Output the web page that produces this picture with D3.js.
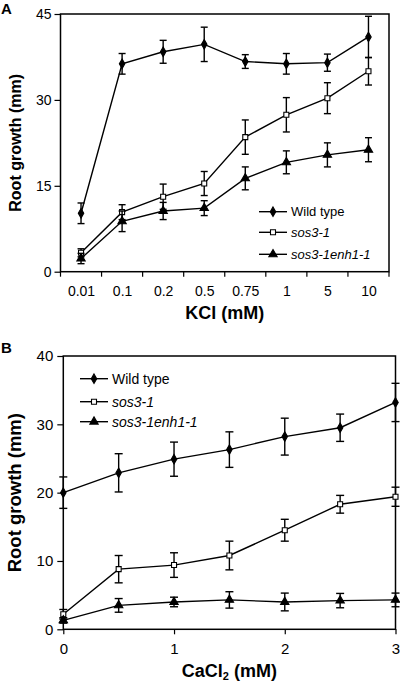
<!DOCTYPE html>
<html><head><meta charset="utf-8">
<script src="https://cdn.jsdelivr.net/npm/d3@7"></script>
<style>
body{margin:0;background:#fff;}
svg{display:block;font-family:"Liberation Sans",Arial,sans-serif;}
</style></head>
<body><svg id="c" width="400" height="685"></svg>
<script>
// Panel A: KCl
const kclCats = ["0.01","0.1","0.2","0.5","0.75","1","5","10"];
const kclWild = [10.2,36.3,38.4,39.7,36.7,36.3,36.5,41.0];
const kclWildErr = [1.8,1.8,2.0,3.0,1.2,1.8,1.5,3.6];
const kclSos = [3.3,10.4,13.1,15.4,23.5,27.4,30.3,35.0];
const kclSosErr = [0.7,1.3,2.2,2.1,3.0,3.0,2.7,2.4];
const kclEnh = [2.3,8.8,10.6,11.1,16.3,19.1,20.4,21.3];
const kclEnhErr = [0.9,1.8,1.5,1.3,2.0,2.0,2.1,2.1];
const kclYTicks = [0,15,30,45];
// Panel B: CaCl2
const caConc = [0,0.5,1,1.5,2,2.5,3];
const caWild = [20.0,22.9,24.9,26.3,28.2,29.5,33.2];
const caWildErr = [2.3,2.8,2.5,2.6,2.7,2.0,2.8];
const caSos = [2.2,8.8,9.4,10.8,14.5,18.3,19.4];
const caSosErr = [0.7,2.0,1.8,2.1,1.6,1.3,1.4];
const caEnh = [1.3,3.5,4.0,4.3,4.0,4.2,4.3];
const caEnhErr = [0.4,1.0,0.7,1.2,1.3,1.05,1.0];
const caYTicks = [0,10,20,30,40];
const caXTicks = [0,1,2,3];
const seriesNames = ["Wild type","sos3-1","sos3-1enh1-1"];

const svg = d3.select("#c");
const sym = {
  diamond: d3.symbol().type(d3.symbolDiamond).size(26)(),
  square: d3.symbol().type(d3.symbolSquare).size(25)(),
  triangle: d3.symbol().type(d3.symbolTriangle).size(30)()
};
const styles = [
  {path: sym.diamond, fill:"#000"},
  {path: sym.square, fill:"#fff"},
  {path: sym.triangle, fill:"#000"}
];

function drawSeries(g, xs, ys, errs, x, y, st, cap){
  const pts = xs.map((xv,i)=>({x:x(xv), y:y(ys[i]), lo:y(ys[i]-errs[i]), hi:y(ys[i]+errs[i])}));
  g.append("path").datum(pts)
    .attr("d", d3.line().x(d=>d.x).y(d=>d.y))
    .attr("fill","none").attr("stroke","#000").attr("stroke-width",1.4);
  const eb = g.append("g").attr("stroke","#000").attr("stroke-width",1.4);
  pts.forEach(p=>{
    eb.append("line").attr("x1",p.x).attr("x2",p.x).attr("y1",p.lo).attr("y2",p.hi);
    eb.append("line").attr("x1",p.x-cap).attr("x2",p.x+cap).attr("y1",p.lo).attr("y2",p.lo);
    eb.append("line").attr("x1",p.x-cap).attr("x2",p.x+cap).attr("y1",p.hi).attr("y2",p.hi);
  });
  g.selectAll(null).data(pts).enter().append("path")
    .attr("d", st.path).attr("transform",d=>`translate(${d.x},${d.y})`)
    .attr("fill",st.fill).attr("stroke","#000").attr("stroke-width",1.1);
}

function legend(g, x0, rows, fs){
  rows.forEach((r,i)=>{
    const row = g.append("g").attr("transform",`translate(${x0},${r})`);
    row.append("line").attr("x1",0).attr("x2",28).attr("stroke","#000").attr("stroke-width",1.4);
    row.append("path").attr("d",styles[i].path).attr("transform","translate(14,0)")
      .attr("fill",styles[i].fill).attr("stroke","#000").attr("stroke-width",1.1);
    row.append("text").attr("x",32).attr("y",0).attr("dy","0.35em")
      .attr("font-size",fs).attr("font-style", i===0?"normal":"italic").text(seriesNames[i]);
  });
}

// ---------- Panel A ----------
{
  const L=60.5,R=389,T=14,B=271.7;
  const xb = d3.scaleBand().domain(kclCats).range([L,R]).padding(0);
  const xc = d => xb(d)+xb.bandwidth()/2;
  const y = d3.scaleLinear().domain([0,45]).range([B,T]);
  const g = svg.append("g");
  const ya = g.append("g").attr("transform",`translate(${L},0)`)
    .call(d3.axisLeft(y).tickValues(kclYTicks).tickSize(6).tickPadding(3));
  ya.select(".domain").remove();
  ya.selectAll("line").attr("stroke-width",1.2);
  ya.selectAll("text").attr("font-size",14).attr("font-family","Liberation Sans, Arial, sans-serif");
  const xl = g.append("g").attr("transform",`translate(0,${B})`)
    .call(d3.axisBottom(d3.scalePoint().domain(kclCats).range([xc(kclCats[0]),xc(kclCats[kclCats.length-1])])).tickSize(0).tickPadding(14));
  xl.select(".domain").remove();
  xl.selectAll("text").attr("font-size",14).attr("font-family","Liberation Sans, Arial, sans-serif");
  const bounds = kclCats.map(c=>xb(c)).concat([R]);
  g.append("g").selectAll("line").data(bounds).enter().append("line")
    .attr("x1",d=>d).attr("x2",d=>d).attr("y1",B).attr("y2",B+5)
    .attr("stroke","#000").attr("stroke-width",1.2);
  g.append("rect").attr("x",L).attr("y",T).attr("width",R-L).attr("height",B-T)
    .attr("fill","none").attr("stroke","#000").attr("stroke-width",1.5);
  drawSeries(g, kclCats, kclWild, kclWildErr, xc, y, styles[0], 3.5);
  drawSeries(g, kclCats, kclSos, kclSosErr, xc, y, styles[1], 3.5);
  drawSeries(g, kclCats, kclEnh, kclEnhErr, xc, y, styles[2], 3.5);
  legend(g, 259, [211.7,232.3,254.3], 13);
  g.append("text").attr("x",(L+R)/2).attr("y",319).attr("text-anchor","middle")
    .attr("font-size",18).attr("font-weight","bold").text("KCl (mM)");
  g.append("text").attr("transform",`translate(21,${(T+B)/2}) rotate(-90)`).attr("text-anchor","middle")
    .attr("font-size",16).attr("font-weight","bold").text("Root growth (mm)");
  g.append("text").attr("x",1).attr("y",14).attr("font-size",15).attr("font-weight","bold").text("A");
}

// ---------- Panel B ----------
{
  const L=63.3,R=395.5,T=356,B=629.3;
  const x = d3.scaleLinear().domain([0,3]).range([L,R]);
  const y = d3.scaleLinear().domain([0,40]).range([B,T]);
  const g = svg.append("g");
  const ya = g.append("g").attr("transform",`translate(${L},0)`)
    .call(d3.axisLeft(y).tickValues(caYTicks).tickSize(6).tickPadding(4));
  ya.select(".domain").remove();
  ya.selectAll("line").attr("stroke-width",1.2);
  ya.selectAll("text").attr("font-size",15).attr("font-family","Liberation Sans, Arial, sans-serif");
  const xa = g.append("g").attr("transform",`translate(0,${B})`)
    .call(d3.axisBottom(x).tickValues(caXTicks).tickSize(5).tickPadding(9).tickFormat(d3.format("d")));
  xa.select(".domain").remove();
  xa.selectAll("line").attr("stroke-width",1.2);
  xa.selectAll("text").attr("font-size",15).attr("font-family","Liberation Sans, Arial, sans-serif");
  g.append("rect").attr("x",L).attr("y",T).attr("width",R-L).attr("height",B-T)
    .attr("fill","none").attr("stroke","#000").attr("stroke-width",1.5);
  drawSeries(g, caConc, caWild, caWildErr, x, y, styles[0], 4);
  drawSeries(g, caConc, caSos, caSosErr, x, y, styles[1], 4);
  drawSeries(g, caConc, caEnh, caEnhErr, x, y, styles[2], 4);
  legend(g, 80, [378.7,401.7,421.7], 14);
  const t = g.append("text").attr("x",(L+R)/2).attr("y",677).attr("text-anchor","middle")
    .attr("font-size",18).attr("font-weight","bold");
  t.append("tspan").text("CaCl");
  t.append("tspan").attr("font-size",11).attr("dy",3).text("2");
  t.append("tspan").attr("dy",-3).text(" (mM)");
  g.append("text").attr("transform",`translate(21,${(T+B)/2}) rotate(-90)`).attr("text-anchor","middle")
    .attr("font-size",18.5).attr("font-weight","bold").text("Root growth (mm)");
  g.append("text").attr("x",1).attr("y",353).attr("font-size",15).attr("font-weight","bold").text("B");
}
</script></body></html>
